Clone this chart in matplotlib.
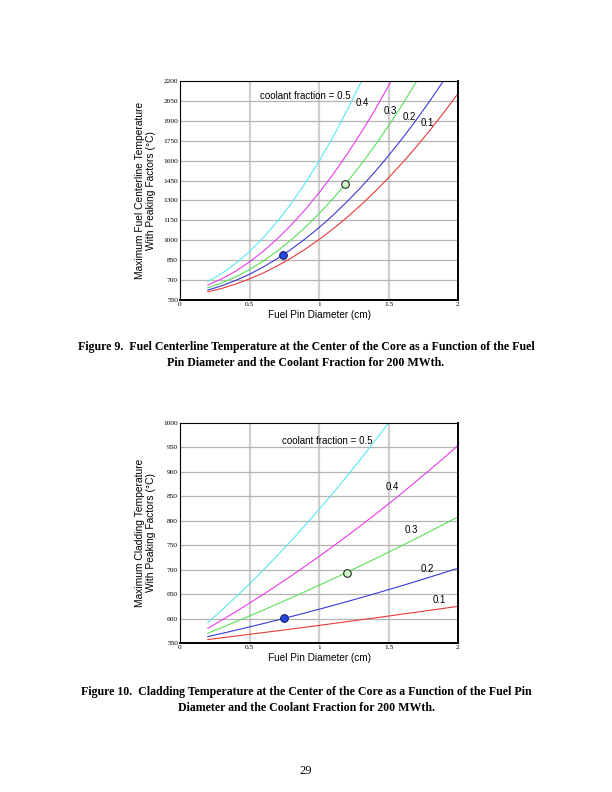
import numpy as np
import matplotlib
matplotlib.use("Agg")
import matplotlib.pyplot as plt

# ---------------- data ----------------
coolant_fractions = ["0.1", "0.2", "0.3", "0.4", "0.5"]

# Figure 9: fuel centerline temperature (deg C) vs pin diameter (cm)
fuel_x = [0.2, 0.3, 0.4, 0.5, 0.6, 0.7, 0.8, 0.9, 1.0, 1.1, 1.2, 1.3, 1.4,
          1.5, 1.6, 1.7, 1.8, 1.9, 2.0]
fuel_t_01 = [612, 637, 670, 709, 754, 807, 866, 932, 1005, 1085, 1171, 1264,
             1364, 1471, 1584, 1704, 1831, 1965, 2105]
fuel_t_02 = [625, 657, 697, 744, 799, 862, 932, 1010, 1095, 1188, 1289, 1397,
             1513, 1637, 1768, 1907, 2054, 2208]
fuel_t_03 = [642, 678, 724, 779, 844, 919, 1003, 1097, 1200, 1313, 1436, 1568,
             1710, 1862, 2023, 2194, 2375]
fuel_t_04 = [662, 709, 767, 837, 918, 1011, 1115, 1230, 1357, 1495, 1645, 1806,
             1978, 2162, 2357]
fuel_t_05 = [690, 750, 825, 915, 1021, 1141, 1277, 1429, 1595, 1777, 1974, 2186,
             2413]
fuel_point_filled = (0.74, 887)
fuel_point_open = (1.19, 1421)

# Figure 10: cladding temperature (deg C) vs pin diameter (cm)
clad_x = [0.2, 0.3, 0.4, 0.5, 0.6, 0.7, 0.8, 0.9, 1.0, 1.1, 1.2, 1.3, 1.4,
          1.5, 1.6, 1.7, 1.8, 1.9, 2.0]
clad_t_01 = [557.0, 560.6, 564.1, 567.7, 571.3, 574.9, 578.6, 582.3, 586.0,
             589.8, 593.6, 597.4, 601.3, 605.1, 609.1, 613.0, 617.0, 621.0, 625.0]
clad_t_02 = [563.0, 569.5, 576.1, 582.9, 589.8, 596.8, 604.1, 611.5, 619.0,
             626.7, 634.6, 642.6, 650.7, 659.1, 667.5, 676.2, 685.0, 693.9, 703.0]
clad_t_03 = [570.0, 581.5, 593.3, 605.3, 617.4, 629.8, 642.3, 655.1, 668.0,
             681.1, 694.5, 708.0, 721.7, 735.6, 749.7, 764.0, 778.5, 793.1, 808.0]
clad_t_04 = [580.0, 596.7, 613.8, 631.5, 649.6, 668.3, 687.4, 706.9, 727.0,
             747.5, 768.6, 790.1, 812.0, 834.5, 857.4, 880.9, 904.8, 929.1, 954.0]
clad_t_05 = [591.8, 617.2, 643.6, 671.0, 699.4, 728.8, 759.2, 790.6, 823.0,
             856.4, 890.8, 926.2, 962.6, 1000.0, 1038.4]
clad_point_filled = (0.75, 601)
clad_point_open = (1.205, 693)

fuel_yticks = [550, 700, 850, 1000, 1150, 1300, 1450, 1600, 1750, 1900, 2050, 2200]
clad_yticks = [550, 600, 650, 700, 750, 800, 850, 900, 950, 1000]
xticks = [0, 0.5, 1, 1.5, 2]
xtick_labels = ["0", "0.5", "1", "1.5", "2"]

caption9 = ("Figure 9.  Fuel Centerline Temperature at the Center of the Core as a Function of the Fuel\n"
            "Pin Diameter and the Coolant Fraction for 200 MWth.")
caption10 = ("Figure 10.  Cladding Temperature at the Center of the Core as a Function of the Fuel Pin\n"
             "Diameter and the Coolant Fraction for 200 MWth.")

# ---------------- style ----------------
colors = ["#e83a3a", "#3a3ad6", "#5ae05a", "#e83ce8", "#5ae8f0"]
SANS = "Liberation Sans"
SERIF = "Liberation Serif"

fig = plt.figure(figsize=(6.12, 7.92), dpi=100)
fig.patch.set_facecolor("white")


def style_axes(ax, yticks, ylim):
    ax.set_xlim(0, 2)
    ax.set_ylim(*ylim)
    ax.set_xticks(xticks)
    ax.set_xticklabels(xtick_labels)
    ax.set_yticks(yticks)
    ax.tick_params(length=0, pad=1.5, labelsize=5.3)
    for lab in ax.get_xticklabels() + ax.get_yticklabels():
        lab.set_fontfamily(SERIF)
    for v in [0.5, 1.0, 1.5]:
        ax.axvline(v, color="#cfcfcf", lw=1.6, zorder=0)
    for v in yticks[1:-1]:
        ax.axhline(v, color="#b4b4b4", lw=0.9, zorder=0)
    ax.spines["left"].set_linewidth(0.8)
    ax.spines["top"].set_linewidth(0.8)
    ax.spines["right"].set_linewidth(1.4)
    ax.spines["bottom"].set_linewidth(1.4)
    ax.set_xlabel("Fuel Pin Diameter (cm)", fontfamily=SANS, fontsize=7.2, labelpad=2)


# ---- Figure 9 ----
ax1 = fig.add_axes([180 / 612, 1 - 300 / 792, 278 / 612, 219 / 792])
style_axes(ax1, fuel_yticks, (550, 2200))
fuel_series = [fuel_t_01, fuel_t_02, fuel_t_03, fuel_t_04, fuel_t_05]
for ys, c in zip(fuel_series, colors):
    ax1.plot(fuel_x[:len(ys)], ys, color=c, lw=0.8, zorder=2)
ax1.plot(*fuel_point_filled, "o", ms=5.5, mfc="#2848e0", mec="#10206a", mew=0.8, zorder=3)
ax1.plot(*fuel_point_open, "o", ms=5.5, mfc="#d8f8d0", mec="#203020", mew=0.8, zorder=3)
ax1.text(0.573, 2087, "coolant fraction = " + coolant_fractions[4], fontfamily=SANS,
         fontsize=7, ha="left", va="center")
for lab, (x, y) in zip(coolant_fractions[3::-1],
                       [(1.315, 2032), (1.51, 1976), (1.65, 1931), (1.78, 1881)]):
    ax1.text(x, y, lab, fontfamily=SANS, fontsize=7, ha="center", va="center")
ax1.set_ylabel("Maximum Fuel Centerline Temperature\nWith Peaking Factors (\u00b0C)",
               fontfamily=SANS, fontsize=7.4, labelpad=5, linespacing=1.2)

# ---- Figure 10 ----
ax2 = fig.add_axes([180 / 612, 1 - 643 / 792, 278 / 612, 220 / 792])
style_axes(ax2, clad_yticks, (550, 1000))
clad_series = [clad_t_01, clad_t_02, clad_t_03, clad_t_04, clad_t_05]
for ys, c in zip(clad_series, colors):
    ax2.plot(clad_x[:len(ys)], ys, color=c, lw=0.8, zorder=2)
ax2.plot(*clad_point_filled, "o", ms=5.5, mfc="#2848e0", mec="#10206a", mew=0.8, zorder=3)
ax2.plot(*clad_point_open, "o", ms=5.5, mfc="#d8f8d0", mec="#203020", mew=0.8, zorder=3)
ax2.text(0.732, 964, "coolant fraction = " + coolant_fractions[4], fontfamily=SANS,
         fontsize=7, ha="left", va="center")
for lab, (x, y) in zip(coolant_fractions[3::-1],
                       [(1.53, 870), (1.662, 781), (1.777, 701), (1.866, 638)]):
    ax2.text(x, y, lab, fontfamily=SANS, fontsize=7, ha="center", va="center")
ax2.set_ylabel("Maximum Cladding Temperature\nWith Peaking Factors (\u00b0C)",
               fontfamily=SANS, fontsize=7.4, labelpad=5, linespacing=1.2)

# ---- captions ----
fig.text(0.5, 1 - 355 / 792, caption9, ha="center", va="center", fontfamily=SERIF,
         fontweight="bold", fontsize=8.6, linespacing=1.5)
fig.text(0.5, 1 - 700 / 792, caption10, ha="center", va="center", fontfamily=SERIF,
         fontweight="bold", fontsize=8.6, linespacing=1.5)
fig.text(0.5, 1 - 771 / 792, "29", ha="center", va="center", fontfamily=SERIF, fontsize=9)

fig.savefig("out.png", dpi=100, facecolor="white")
